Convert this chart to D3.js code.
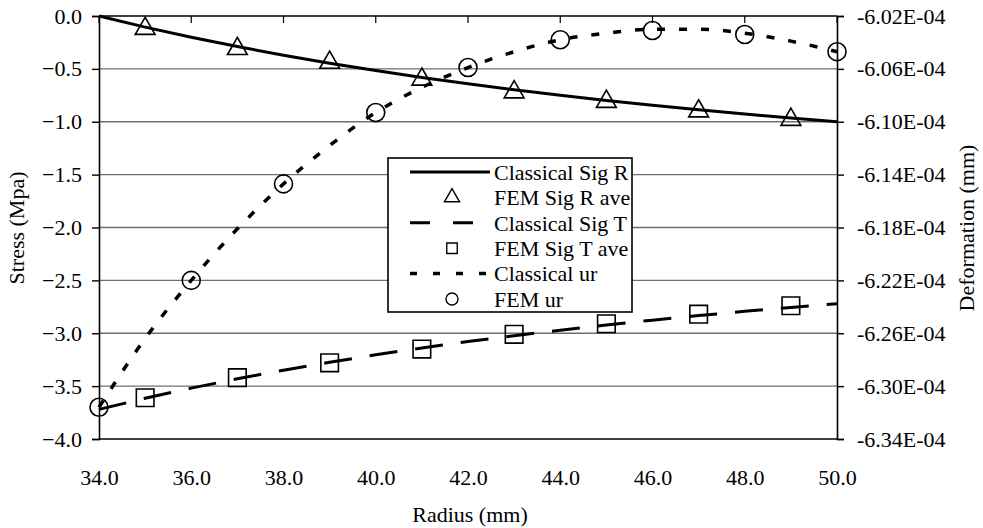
<!DOCTYPE html>
<html>
<head>
<meta charset="utf-8">
<script src="https://cdn.jsdelivr.net/npm/d3@7"></script>
<style>
  html, body { margin: 0; padding: 0; background: #fff; }
  svg text { font-family: "Liberation Serif", "Tinos", "Times New Roman", Times, "Nimbus Roman", "DejaVu Serif", "Noto Serif", serif !important; }
</style>
</head>
<body>
<svg id="chart" width="983" height="528"></svg>
<script>
// ---- Data ----
const radiusLine = [34,35,36,37,38,39,40,41,42,43,44,45,46,47,48,49,50];
const classicalSigR = [0.000,-0.105,-0.201,-0.289,-0.371,-0.446,-0.516,-0.581,-0.641,-0.697,-0.750,-0.798,-0.844,-0.887,-0.927,-0.964,-1.000];
const classicalSigT = [-3.720,-3.615,-3.519,-3.431,-3.349,-3.274,-3.204,-3.139,-3.079,-3.023,-2.971,-2.922,-2.876,-2.833,-2.793,-2.756,-2.720];
const classicalUr = [-6.316,-6.264,-6.220,-6.181,-6.147,-6.118,-6.093,-6.074,-6.059,-6.047,-6.038,-6.033,-6.030,-6.030,-6.033,-6.039,-6.047]; // x 1E-04 mm

const radiusFemStress = [35,37,39,41,43,45,47,49];
const femSigR = [-0.12,-0.31,-0.44,-0.60,-0.72,-0.81,-0.90,-0.98];
const femSigT = [-3.61,-3.42,-3.28,-3.15,-3.01,-2.91,-2.82,-2.74];

const radiusFemUr = [34,36,38,40,42,44,46,48,50];
const femUr = [-6.316,-6.220,-6.147,-6.093,-6.059,-6.038,-6.031,-6.034,-6.047]; // x 1E-04 mm

const xTicks = [34,36,38,40,42,44,46,48,50];
const yLeftTicks = [0,-0.5,-1,-1.5,-2,-2.5,-3,-3.5,-4];
const yRightTicks = [-6.02,-6.06,-6.10,-6.14,-6.18,-6.22,-6.26,-6.30,-6.34];

const legendLabels = ["Classical Sig R","FEM Sig R ave","Classical Sig T","FEM Sig T ave","Classical ur","FEM ur"];

// ---- Layout ----
const W = 983, H = 528;
const m = {left: 99, right: 146, top: 16, bottom: 89};
const pw = W - m.left - m.right, ph = H - m.top - m.bottom;
const FS = 22;

const svg = d3.select("#chart");
const g = svg.append("g").attr("transform", `translate(${m.left},${m.top})`);

const x = d3.scaleLinear().domain([34,50]).range([0,pw]);
const yL = d3.scaleLinear().domain([-4,0]).range([ph,0]);
const yR = d3.scaleLinear().domain([-6.34,-6.02]).range([ph,0]);

// gridlines
g.append("g").selectAll("line").data(yLeftTicks.filter(d => d !== 0 && d !== -4)).join("line")
  .attr("x1",0).attr("x2",pw).attr("y1",d=>yL(d)).attr("y2",d=>yL(d))
  .attr("stroke","#6e6e6e").attr("stroke-width",1.4);

// plot frame lines (top & bottom)
g.append("line").attr("x1",0).attr("x2",pw).attr("y1",0).attr("y2",0).attr("stroke","#000").attr("stroke-width",1.6);
g.append("line").attr("x1",0).attr("x2",pw).attr("y1",ph).attr("y2",ph).attr("stroke","#000").attr("stroke-width",1.6);

// left axis
const axL = g.append("g").call(d3.axisLeft(yL).tickValues(yLeftTicks).tickFormat(d3.format(".1f")).tickSize(7).tickPadding(10));
// right axis
const axR = g.append("g").attr("transform",`translate(${pw},0)`)
  .call(d3.axisRight(yR).tickValues(yRightTicks).tickFormat(d => d.toFixed(2) + "E-04").tickSize(7).tickPadding(13));
// x axis labels at bottom (no ticks)
const axB = g.append("g").attr("transform",`translate(0,${ph})`)
  .call(d3.axisBottom(x).tickValues(xTicks).tickFormat(d3.format(".1f")).tickSize(0).tickPadding(30));
axB.select(".domain").remove();
// x ticks on top line pointing down
g.append("g").selectAll("line").data(xTicks).join("line")
  .attr("x1",d=>x(d)).attr("x2",d=>x(d)).attr("y1",0).attr("y2",7)
  .attr("stroke","#000").attr("stroke-width",1.2);

[axL, axR, axB].forEach(a => {
  a.selectAll("text").attr("font-size", FS).attr("fill","#000");
  a.selectAll(".domain").attr("stroke","#000").attr("stroke-width",1.6);
  a.selectAll(".tick line").attr("stroke","#000").attr("stroke-width",1.4);
});

// ---- Series ----
const lineL = (ys) => d3.line().x((d,i)=>x(radiusLine[i])).y((d,i)=>yL(ys[i]));
g.append("path").datum(classicalSigR).attr("d", lineL(classicalSigR))
  .attr("fill","none").attr("stroke","#000").attr("stroke-width",3);
g.append("path").datum(classicalSigT).attr("d", lineL(classicalSigT))
  .attr("fill","none").attr("stroke","#000").attr("stroke-width",3).attr("stroke-dasharray","28,18");
const lineUr = d3.line().x((d,i)=>x(radiusLine[i])).y((d,i)=>yR(classicalUr[i])).curve(d3.curveMonotoneX);
g.append("path").datum(classicalUr).attr("d", lineUr)
  .attr("fill","none").attr("stroke","#000").attr("stroke-width",3.5).attr("stroke-dasharray","8,14");

// markers
const tri = d3.symbol().type(d3.symbolTriangle).size(170);
const sq = d3.symbol().type(d3.symbolSquare).size(310);
g.append("g").selectAll("path").data(femSigR).join("path")
  .attr("d", tri).attr("transform",(d,i)=>`translate(${x(radiusFemStress[i])},${yL(d)})`)
  .attr("fill","none").attr("stroke","#000").attr("stroke-width",1.6);
g.append("g").selectAll("path").data(femSigT).join("path")
  .attr("d", sq).attr("transform",(d,i)=>`translate(${x(radiusFemStress[i])},${yL(d)})`)
  .attr("fill","none").attr("stroke","#000").attr("stroke-width",1.6);
g.append("g").selectAll("circle").data(femUr).join("circle")
  .attr("cx",(d,i)=>x(radiusFemUr[i])).attr("cy",d=>yR(d)).attr("r",9)
  .attr("fill","none").attr("stroke","#000").attr("stroke-width",1.6);

// ---- Axis titles ----
svg.append("text").attr("transform","translate(24,228) rotate(-90)").attr("text-anchor","middle")
  .attr("font-size",FS).text("Stress (Mpa)");
svg.append("text").attr("transform","translate(974,228) rotate(-90)").attr("text-anchor","middle")
  .attr("font-size",FS).text("Deformation (mm)");
svg.append("text").attr("x",470).attr("y",522).attr("text-anchor","middle")
  .attr("font-size",FS).text("Radius (mm)");

// ---- Legend ----
const lg = svg.append("g");
const lx = 388, ly = 158, lw = 244, lh = 154;
lg.append("rect").attr("x",lx).attr("y",ly).attr("width",lw).attr("height",lh)
  .attr("fill","#fff").attr("stroke","#000").attr("stroke-width",1.6);
const rowY = i => ly + 14 + i*25.4;
const sx1 = 410, sx2 = 490, smid = 452, tx = 494;
legendLabels.forEach((lab,i) => {
  const yy = rowY(i);
  if (i === 0) lg.append("line").attr("x1",sx1).attr("x2",sx2).attr("y1",yy).attr("y2",yy).attr("stroke","#000").attr("stroke-width",3);
  if (i === 2) lg.append("line").attr("x1",sx1).attr("x2",sx2).attr("y1",yy).attr("y2",yy).attr("stroke","#000").attr("stroke-width",3).attr("stroke-dasharray","20,23");
  if (i === 4) lg.append("line").attr("x1",sx1).attr("x2",sx2).attr("y1",yy).attr("y2",yy).attr("stroke","#000").attr("stroke-width",3.5).attr("stroke-dasharray","7,16");
  if (i === 1) lg.append("path").attr("d",d3.symbol().type(d3.symbolTriangle).size(100)).attr("transform",`translate(${smid},${yy})`).attr("fill","none").attr("stroke","#000").attr("stroke-width",1.4);
  if (i === 3) lg.append("path").attr("d",d3.symbol().type(d3.symbolSquare).size(110)).attr("transform",`translate(${smid},${yy})`).attr("fill","none").attr("stroke","#000").attr("stroke-width",1.4);
  if (i === 5) lg.append("circle").attr("cx",smid).attr("cy",yy).attr("r",6).attr("fill","none").attr("stroke","#000").attr("stroke-width",1.4);
  lg.append("text").attr("x",tx).attr("y",yy).attr("dy","0.35em").attr("font-size",FS).text(lab);
});
</script>
</body>
</html>
